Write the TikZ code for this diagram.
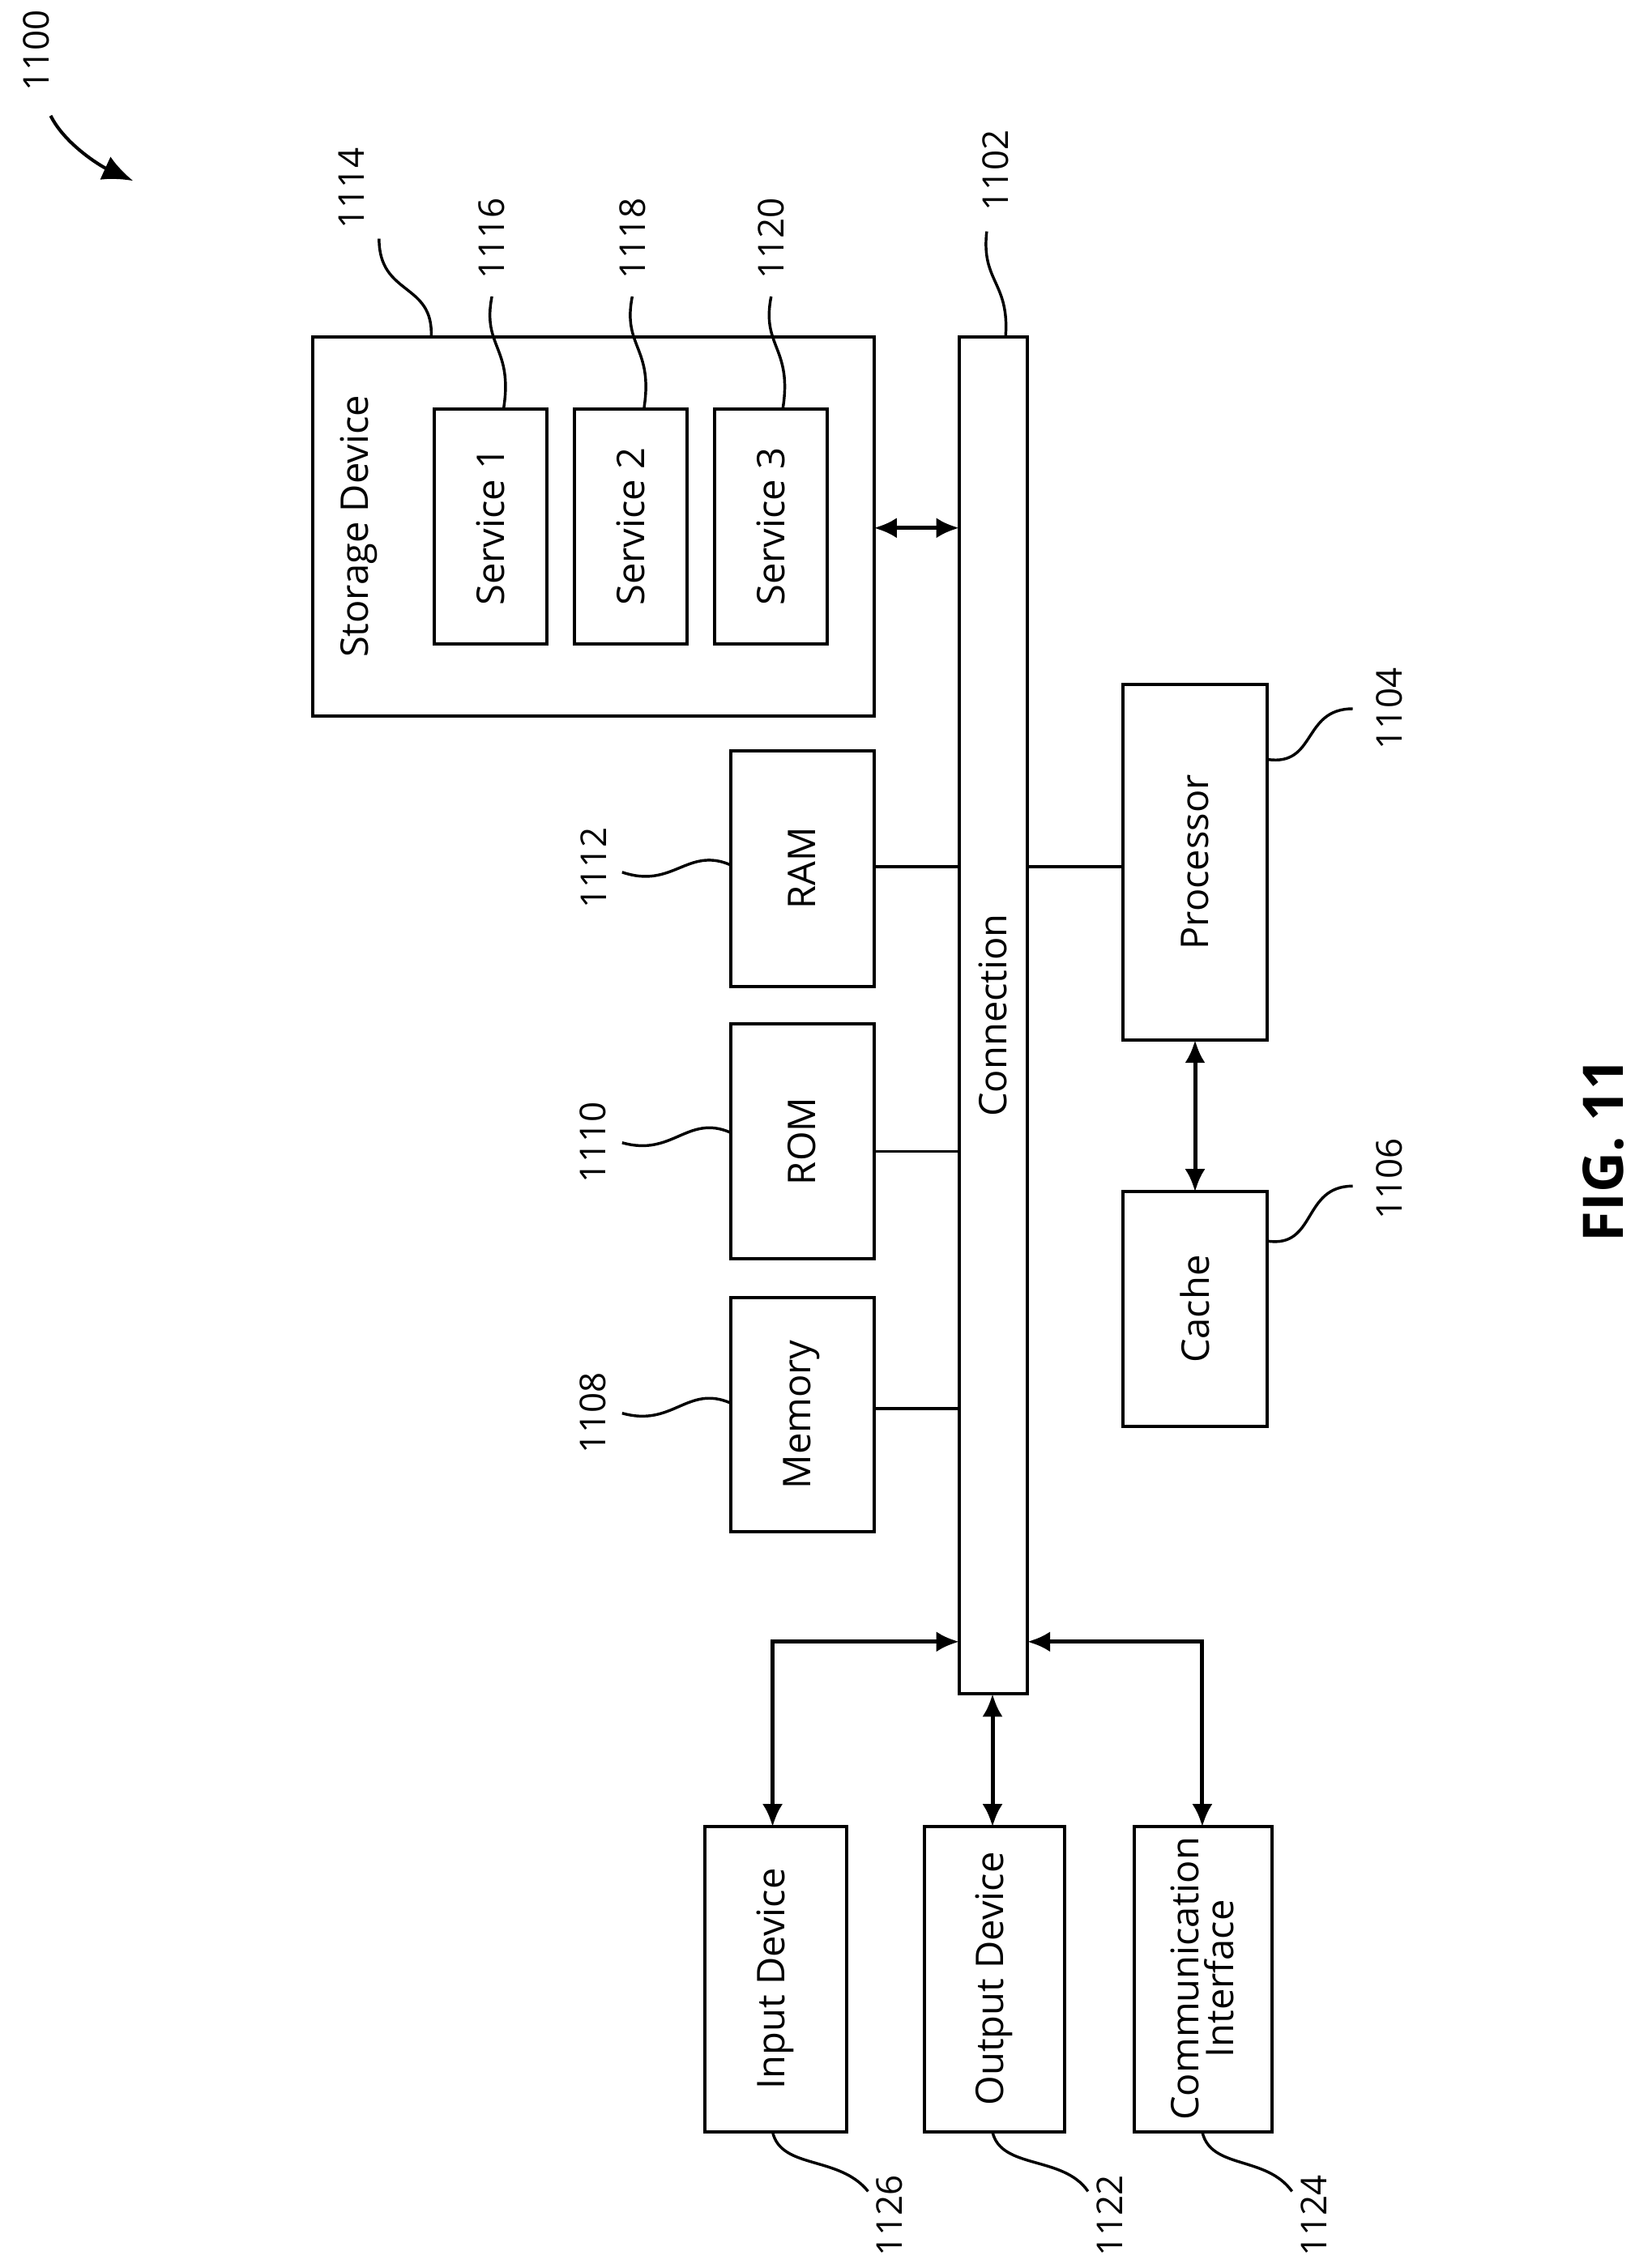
\documentclass[tikz,border=0pt]{standalone}
\usepackage{fontspec}
\setmainfont{Open Sans}
\usetikzlibrary{arrows.meta}
\begin{document}
\begin{tikzpicture}[x=0.02cm,y=-0.02cm,
 box/.style={draw,line width=1.3pt},
 txt/.style={rotate=90,font=\fontsize{15}{18}\selectfont,align=center},
 num/.style={rotate=90,font=\fontsize{14}{16}\selectfont},
 ln/.style={line width=1.2pt},
 arr/.style={line width=1.6pt,{Latex[length=9pt,width=8pt]}-{Latex[length=9pt,width=8pt]}},
 sq/.style={line width=1.1pt}]
\useasboundingbox (0,0) rectangle (1130,1568);
% boxes
\draw[box] (216,233) rectangle (604,495);
\node[txt] (sd) at (248,364) {Storage Device};
\draw[box] (300,283) rectangle (378,445); \node[txt] (s1) at (339,364) {Service 1};
\draw[box] (397,283) rectangle (475,445); \node[txt] (s2) at (436,364) {Service 2};
\draw[box] (494,283) rectangle (572,445); \node[txt] (s3) at (533,364) {Service 3};
\draw[box] (663,233) rectangle (710,1171); \node[txt] at (686,702) {Connection};
\draw[box] (505,519) rectangle (604,682); \node[txt] at (554,600) {RAM};
\draw[box] (505,708) rectangle (604,870); \node[txt] at (554,789) {ROM};
\draw[box] (505,897) rectangle (604,1059); \node[txt] at (554,978) {Memory};
\draw[box] (776,473) rectangle (876,719); \node[txt] at (826,596) {Processor};
\draw[box] (776,824) rectangle (876,986); \node[txt] at (826,905) {Cache};
\draw[box] (487,1263) rectangle (585,1474); \node[txt] at (536,1368) {Input Device};
\draw[box] (639,1263) rectangle (736,1474); \node[txt] at (687,1368) {Output Device};
\draw[box] (784,1263) rectangle (879,1474); \node[txt] at (831,1368) {Communication\\[-4pt]Interface};
% connectors
\draw[arr] (604,365) -- (663,365);
\draw[ln] (604,599) -- (663,599);
\draw[ln] (604,796) -- (663,796);
\draw[ln] (604,974) -- (663,974);
\draw[ln] (710,599) -- (776,599);
\draw[arr] (826,719) -- (826,824);
\draw[arr] (534,1263) -- (534,1135) -- (663,1135);
\draw[arr] (686,1171) -- (686,1263);
\draw[arr] (831,1263) -- (831,1135) -- (710,1135);
% leaders
\newcommand\sqg[2]{\draw[sq] #1 .. controls ($#1!0.5!#2+(18,-8)$) and ($#1!0.5!#2+(-18,8)$) .. #2;}
\draw[sq] (298,233) .. controls (300,195) and (262,205) .. (262,165);
\node[num] at (243,130) {1114};
\draw[sq] (348,283) .. controls (355,240) and (333,240) .. (340,205);
\node[num] at (340,165) {1116};
\draw[sq] (445,283) .. controls (452,240) and (430,240) .. (437,205);
\node[num] at (437,165) {1118};
\draw[sq] (541,283) .. controls (548,240) and (526,240) .. (533,205);
\node[num] at (533,165) {1120};
\draw[sq] (695,233) .. controls (698,195) and (678,195) .. (682,160);
\node[num] at (688,118) {1102};
\draw[sq] (505,598) .. controls (475,585) and (465,615) .. (430,603);
\node[num] at (410,600) {1112};
\draw[sq] (505,783) .. controls (475,770) and (465,800) .. (430,790);
\node[num] at (410,790) {1110};
\draw[sq] (505,970) .. controls (475,957) and (465,987) .. (430,977);
\node[num] at (410,977) {1108};
\draw[sq] (876,525) .. controls (910,530) and (900,490) .. (935,490);
\node[num] at (960,490) {1104};
\draw[sq] (876,858) .. controls (910,863) and (900,820) .. (935,820);
\node[num] at (960,815) {1106};
\draw[sq] (534,1474) .. controls (540,1500) and (580,1490) .. (600,1515);
\node[num] at (615,1532) {1126};
\draw[sq] (686,1474) .. controls (692,1500) and (735,1490) .. (752,1515);
\node[num] at (767,1532) {1122};
\draw[sq] (831,1474) .. controls (837,1500) and (875,1490) .. (893,1515);
\node[num] at (908,1532) {1124};
\node[num] at (25,35) {1100};
\draw[line width=1.3pt,-{Latex[length=12pt,width=10pt]}] (35,80) .. controls (45,100) and (70,115) .. (92,125);
\node[rotate=90,font=\bfseries\fontsize{22}{26}\selectfont] at (1108,795) {FIG. 11};
\end{tikzpicture}
\end{document}
